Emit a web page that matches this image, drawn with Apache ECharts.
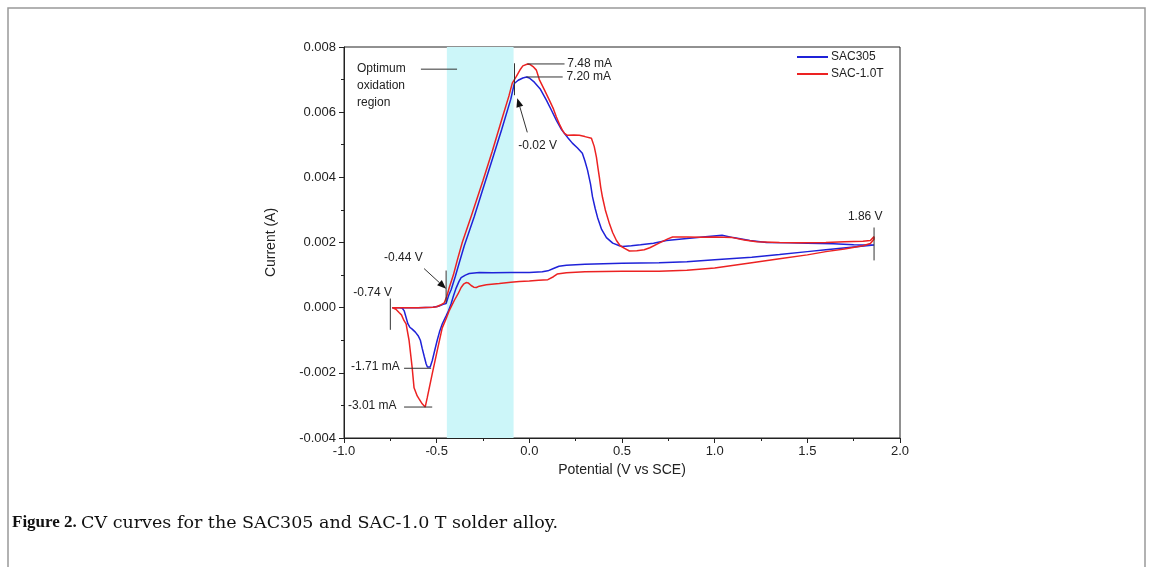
<!DOCTYPE html>
<html>
<head>
<meta charset="utf-8">
<script src="https://cdn.jsdelivr.net/npm/echarts@6/dist/echarts.min.js"></script>
<style>
  html, body { margin: 0; background: #fff; }
  #main { width: 1153px; height: 567px; }
</style>
</head>
<body>
<div id="main"></div>
<script>
// potential (V vs SCE), current (mA)
var sac305 = [
  [-0.74, 0], [-0.6, 0], [-0.52, 0.01], [-0.49, 0.04], [-0.465, 0.1], [-0.449, 0.13],
  [-0.435, 0.38], [-0.422, 0.55], [-0.4, 0.95], [-0.378, 1.38], [-0.351, 1.9],
  [-0.297, 2.8], [-0.25, 3.65], [-0.2, 4.55], [-0.15, 5.45], [-0.1, 6.4], [-0.081, 6.88],
  [-0.06, 6.98], [-0.035, 7.05], [-0.015, 7.08], [0.0, 7.05], [0.027, 6.92], [0.06, 6.7],
  [0.092, 6.37], [0.12, 6.05], [0.146, 5.75], [0.17, 5.5], [0.189, 5.35], [0.21, 5.2],
  [0.232, 5.05], [0.26, 4.9], [0.286, 4.74], [0.3, 4.5], [0.314, 4.22], [0.33, 3.8],
  [0.341, 3.4], [0.355, 3.05], [0.368, 2.77], [0.39, 2.4], [0.416, 2.15], [0.45, 1.98],
  [0.486, 1.9], [0.503, 1.88], [0.55, 1.9], [0.6, 1.93], [0.67, 1.98], [0.74, 2.06],
  [0.85, 2.12], [0.95, 2.18], [1.04, 2.22], [1.1, 2.15], [1.19, 2.06], [1.28, 2.0],
  [1.4, 1.99], [1.5, 1.98], [1.64, 1.96], [1.75, 1.93], [1.86, 1.92],
  // reverse scan
  [1.86, 1.94], [1.75, 1.86], [1.6, 1.78], [1.5, 1.72], [1.35, 1.63], [1.2, 1.55],
  [1.0, 1.47], [0.85, 1.41], [0.7, 1.38], [0.5, 1.36], [0.3, 1.33], [0.2, 1.3],
  [0.16, 1.27], [0.13, 1.2], [0.1, 1.13], [0.07, 1.1], [0.0, 1.08], [-0.1, 1.08],
  [-0.2, 1.07], [-0.27, 1.08], [-0.324, 1.05], [-0.345, 1.0], [-0.368, 0.92],
  [-0.38, 0.8], [-0.395, 0.6], [-0.41, 0.35], [-0.422, 0.12], [-0.435, -0.08],
  [-0.449, -0.25], [-0.47, -0.5], [-0.485, -0.75], [-0.497, -1.0], [-0.51, -1.3],
  [-0.524, -1.63], [-0.535, -1.82], [-0.541, -1.86], [-0.55, -1.82], [-0.557, -1.72],
  [-0.567, -1.5], [-0.578, -1.25], [-0.588, -1.0], [-0.6, -0.86], [-0.615, -0.75],
  [-0.632, -0.66], [-0.645, -0.6], [-0.655, -0.5], [-0.665, -0.3], [-0.675, -0.1],
  [-0.685, -0.02], [-0.7, 0], [-0.74, 0]
];

var sac10T = [
  [-0.74, 0], [-0.6, 0], [-0.52, 0.01], [-0.5, 0.03], [-0.48, 0.08], [-0.459, 0.15],
  [-0.445, 0.35], [-0.432, 0.62], [-0.41, 1.0], [-0.389, 1.45], [-0.362, 2.0],
  [-0.314, 2.8], [-0.25, 3.9], [-0.2, 4.8], [-0.15, 5.75], [-0.11, 6.5], [-0.092, 6.89],
  [-0.07, 7.1], [-0.05, 7.3], [-0.035, 7.42], [-0.01, 7.48], [0.005, 7.46], [0.02, 7.4],
  [0.038, 7.29], [0.054, 7.0], [0.08, 6.7], [0.108, 6.37], [0.13, 6.1], [0.146, 5.85],
  [0.165, 5.6], [0.178, 5.45], [0.19, 5.35], [0.205, 5.29], [0.24, 5.3], [0.27, 5.29],
  [0.3, 5.25], [0.335, 5.2], [0.35, 4.95], [0.362, 4.62], [0.37, 4.3], [0.378, 4.0],
  [0.385, 3.7], [0.395, 3.38], [0.41, 3.0], [0.432, 2.58], [0.45, 2.3], [0.47, 2.06],
  [0.49, 1.9], [0.514, 1.82], [0.54, 1.74], [0.58, 1.75], [0.62, 1.78], [0.65, 1.84],
  [0.7, 1.98], [0.75, 2.12], [0.773, 2.17], [0.85, 2.17], [0.92, 2.16], [1.0, 2.17],
  [1.097, 2.15], [1.16, 2.08], [1.227, 2.02], [1.35, 2.0], [1.46, 1.99], [1.6, 2.0],
  [1.7, 2.02], [1.8, 2.04], [1.84, 2.06], [1.86, 2.18],
  // reverse scan
  [1.86, 2.1], [1.84, 1.97], [1.8, 1.9], [1.7, 1.8], [1.6, 1.72], [1.5, 1.62],
  [1.35, 1.5], [1.2, 1.38], [1.0, 1.22], [0.85, 1.15], [0.7, 1.12], [0.5, 1.12],
  [0.3, 1.1], [0.2, 1.07], [0.15, 1.03], [0.13, 0.95], [0.1, 0.86], [0.05, 0.84],
  [0.0, 0.82], [-0.054, 0.8], [-0.1, 0.78], [-0.162, 0.74], [-0.232, 0.7],
  [-0.27, 0.66], [-0.286, 0.62], [-0.3, 0.63], [-0.314, 0.68], [-0.33, 0.76],
  [-0.341, 0.77], [-0.355, 0.72], [-0.368, 0.62], [-0.385, 0.42], [-0.405, 0.22],
  [-0.432, -0.09], [-0.449, -0.34], [-0.47, -0.62], [-0.497, -1.32], [-0.524, -2.03],
  [-0.551, -2.77], [-0.562, -3.05], [-0.568, -3.02], [-0.578, -2.95], [-0.595, -2.8],
  [-0.605, -2.71], [-0.622, -2.46], [-0.632, -1.85], [-0.649, -1.0], [-0.665, -0.5],
  [-0.676, -0.4], [-0.69, -0.22], [-0.703, -0.15], [-0.72, -0.05], [-0.74, 0]
];

var seriesNames = ["SAC305", "SAC-1.0T"];
var seriesColors = ["#1f22d8", "#ec2222"];
var xTicks = [-1.0, 2.0, 0.5];        // min, max, step
var yTicks = [-0.004, 0.008, 0.002];
var optimumRegion = [-0.445, -0.085]; // V

function toAmp(arr) {
  return arr.map(function (p) { return [p[0], p[1] / 1000]; });
}

var font = '"Liberation Sans", Arial, sans-serif';
var chart = echarts.init(document.getElementById("main"));

var option = {
  backgroundColor: "#fff",
  animation: false,
  textStyle: { fontFamily: font },
  grid: {
    left: 344,
    top: 47,
    right: 253,
    bottom: 129,
    show: true,
    borderColor: "#222",
    borderWidth: 1
  },
  legend: {
    left: 792,
    top: 46,
    orient: "vertical",
    icon: "rect",
    itemWidth: 31,
    itemHeight: 2,
    itemGap: 5,
    textStyle: { fontSize: 12, color: "#222", padding: [0, 0, 0, -2] },
    data: seriesNames
  },
  xAxis: {
    type: "value",
    min: xTicks[0],
    max: xTicks[1],
    interval: xTicks[2],
    name: "Potential (V vs SCE)",
    nameLocation: "middle",
    nameGap: 17,
    nameTextStyle: { fontSize: 14, color: "#222", verticalAlign: "top" },
    axisLine: { onZero: false, lineStyle: { color: "#222" } },
    axisTick: { length: 5, lineStyle: { color: "#222" } },
    minorTick: { show: true, splitNumber: 2, length: 3, lineStyle: { color: "#222" } },
    axisLabel: {
      fontSize: 13,
      color: "#222",
      margin: 7,
      formatter: function (v) { return v.toFixed(1); }
    },
    splitLine: { show: false }
  },
  yAxis: {
    type: "value",
    min: yTicks[0],
    max: yTicks[1],
    interval: yTicks[2],
    name: "Current (A)",
    nameLocation: "middle",
    nameGap: 66,
    nameTextStyle: { fontSize: 14, color: "#222" },
    axisLine: { onZero: false, lineStyle: { color: "#222" } },
    axisTick: { length: 5, lineStyle: { color: "#222" } },
    minorTick: { show: true, splitNumber: 2, length: 3, lineStyle: { color: "#222" } },
    axisLabel: {
      fontSize: 13,
      color: "#222",
      margin: 8,
      formatter: function (v) { return v.toFixed(3); }
    },
    splitLine: { show: false }
  },
  series: [
    {
      name: seriesNames[0],
      type: "line",
      data: toAmp(sac305),
      showSymbol: false,
      symbol: "none",
      color: seriesColors[0],
      lineStyle: { width: 1.5 },
      markArea: {
        silent: true,
        itemStyle: { color: "#ccf6f9" },
        data: [[{ xAxis: optimumRegion[0] }, { xAxis: optimumRegion[1] }]]
      }
    },
    {
      name: seriesNames[1],
      type: "line",
      data: toAmp(sac10T),
      showSymbol: false,
      symbol: "none",
      color: seriesColors[1],
      lineStyle: { width: 1.5 }
    }
  ]
};
chart.setOption(option);

// annotations, given in data units (V, mA)
var annLines = [
  [-0.585, 7.32, -0.39, 7.32],
  [-0.01, 7.48, 0.19, 7.48],
  [-0.015, 7.08, 0.18, 7.08],
  [-0.08, 7.5, -0.08, 6.52],
  [-0.449, 1.14, -0.449, 0.15],
  [-0.75, 0.28, -0.75, -0.68],
  [-0.676, -1.86, -0.53, -1.86],
  [-0.676, -3.05, -0.524, -3.05],
  [1.86, 2.46, 1.86, 1.45]
];
var annArrows = [
  [-0.011, 5.38, -0.065, 6.43],
  [-0.568, 1.2, -0.449, 0.58]
];
var annTexts = [
  [-0.93, 7.32, "Optimum\noxidation\nregion"],
  [0.205, 7.48, "7.48 mA"],
  [0.2, 7.08, "7.20 mA"],
  [-0.06, 4.98, "-0.02 V"],
  [-0.784, 1.54, "-0.44 V"],
  [-0.95, 0.46, "-0.74 V"],
  [-0.962, -1.82, "-1.71 mA"],
  [-0.979, -3.02, "-3.01 mA"],
  [1.719, 2.8, "1.86 V"]
];

function px(v, ma) {
  return chart.convertToPixel({ gridIndex: 0 }, [v, ma / 1000]);
}

var elements = [];
annLines.forEach(function (l) {
  var a = px(l[0], l[1]), b = px(l[2], l[3]);
  elements.push({
    type: "line",
    shape: { x1: a[0], y1: a[1], x2: b[0], y2: b[1] },
    style: { stroke: "#333", lineWidth: 1 },
    z: 10
  });
});
annArrows.forEach(function (l) {
  var a = px(l[0], l[1]), b = px(l[2], l[3]);
  var ang = Math.atan2(b[1] - a[1], b[0] - a[0]);
  var len = 9, w = 3.5;
  var bx = b[0] - len * Math.cos(ang), by = b[1] - len * Math.sin(ang);
  elements.push({
    type: "line",
    shape: { x1: a[0], y1: a[1], x2: bx, y2: by },
    style: { stroke: "#333", lineWidth: 1 },
    z: 10
  });
  elements.push({
    type: "polygon",
    shape: {
      points: [
        [b[0], b[1]],
        [bx + w * Math.sin(ang), by - w * Math.cos(ang)],
        [bx - w * Math.sin(ang), by + w * Math.cos(ang)]
      ]
    },
    style: { fill: "#111" },
    z: 10
  });
});
annTexts.forEach(function (t) {
  var p = px(t[0], t[1]);
  var multi = t[2].indexOf("\n") >= 0;
  elements.push({
    type: "text",
    style: {
      x: p[0],
      y: multi ? p[1] - 9 : p[1],
      text: t[2],
      fill: "#222",
      font: '12px ' + font,
      lineHeight: 17,
      verticalAlign: multi ? "top" : "middle"
    },
    z: 10
  });
});

// outer frame and caption
elements.push({
  type: "rect",
  shape: { x: 8, y: 8, width: 1137, height: 640 },
  style: { fill: null, stroke: "#999", lineWidth: 1.5 },
  z: 0
});
elements.push({
  type: "text",
  style: {
    x: 12,
    y: 523,
    text: "{b|Figure 2.} {r|CV curves for the SAC305 and SAC-1.0 T solder alloy.}",
    font: '17px "Liberation Serif", serif',
    fill: "#111",
    verticalAlign: "middle",
    rich: {
      b: { fontWeight: "bold", fontSize: 17, fontFamily: '"Liberation Serif", serif' },
      r: { fontSize: 17.5, fontFamily: '"DejaVu Serif", serif' }
    }
  }
});

chart.setOption({ graphic: { elements: elements } });
</script>
</body>
</html>
